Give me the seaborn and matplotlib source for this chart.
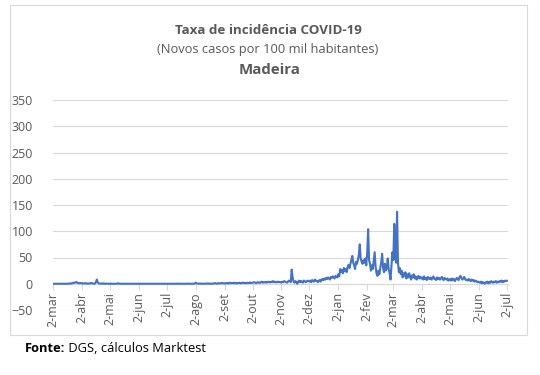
import matplotlib
matplotlib.use("Agg")
import matplotlib.pyplot as plt
import seaborn as sns
import pandas as pd
from matplotlib.patches import Rectangle

# ---- data (daily new cases per 100k) ----
mar20 = [0,0,0,0,0,0,0,0,0,0,0,0,0,0,0,0,0.4,0,0.4,0.8,0.4,1.2,2.0,1.6,2.4,3.5,2.0,1.2,0.8,1.6]
apr20 = [0.8,1.2,0.4,0.8,0.4,1.2,0.8,0,0.4,0.8,0.4,1.6,0.8,0.4,0,0.4,3,8,2.5,0.8,0.4,0,0.4,0.8,0,0.4,0,0,0.4,0]
may20 = [0,0,0.4,0,0,0,0,0,0,0.4,0.8,0,0,0,0,0,0,0,0,0,0,0,0,0,0,0,0,0,0,0,0]
jun20 = [0,0,0,0,0,0,0,0,0,0,0,0,0,0,0,0,0,0,0,0,0,0,0,0,0,0,0,0,0,0]
jul20 = [0,0,0,0,0,0,0,0,0,0,0,0,0,0.4,0,0,0,0,0,0,0,0,0,0,0,0.4,0,0,0,0,0]
aug20 = [0.4,2,0.8,0.4,0,0.4,0,0.4,0,0,0.4,0,0,0.4,0.8,0,0.4,0,0,0.4,0,0.8,1.2,0.4,0,0.8,1.2,0.4,0.8,1.6,0.8]
sep20 = [1,0.4,1.2,0.8,1.6,0.4,1.2,2,0.8,1.2,1.6,0.8,2,1.2,0.4,1.6,1.2,2,0.8,1.6,1.2,2.4,1.2,1.6,0.8,2,1.6,1.2,2.4,1.6]
oct20 = [2,1.5,2.5,3,2,1,2.5,3,2,1.5,3,4,2,3,2.5,3.5,2,3,4,3,2.5,4,3,5,3,4,2.5,3,4,3,3.5]
nov20 = [3,2,4,3,5,4,3,2,4,6,5,3,27,12,4,2,5,3,0,4,6,3,5,4,2,6,5,3,4,6]
dec20 = [5,4,6,3,7,5,4,8,6,5,3,6,7,4,8,9,7,10,8,11,9,12,10,8,13,11,14,12,10,15,13]
jan21 = [12,18,14,28,22,26,20,30,24,28,22,32,36,30,38,45,53,40,35,28,42,38,45,55,75,48,42,38,45,40,48]
feb21 = [35,60,104,45,38,25,35,28,45,60,32,20,15,25,18,30,40,57,30,22,38,25,30,48,28,20,8,35]
mar21 = [60,45,114,55,40,137,40,22,30,18,25,12,20,15,22,10,18,12,20,14,8,16,12,18,10,14,8,12,15,10,13]
apr21 = [10,12,8,14,9,11,7,13,10,9,12,8,11,14,9,10,7,12,9,11,8,10,13,9,7,11,9,8,10,6]
may21 = [8,9,6,10,7,9,5,8,11,9,7,13,15,11,8,10,13,9,7,8,6,9,7,5,8,6,7,4,6,5,3]
jun21 = [4,3,2,4,1,3,2,0,3,2,4,1,3,2,5,3,2,4,3,5,2,4,3,5,4,6,3,5,4,6]
jul21 = [5,6]

month_labels = ["2-mar","2-abr","2-mai","2-jun","2-jul","2-ago","2-set","2-out",
                "2-nov","2-dez","2-jan","2-fev","2-mar","2-abr","2-mai","2-jun","2-jul"]
y_ticks = [-50, 0, 50, 100, 150, 200, 250, 300, 350]

values = (mar20 + apr20 + may20 + jun20 + jul20 + aug20 + sep20 + oct20 + nov20 +
          dec20 + jan21 + feb21 + mar21 + apr21 + may21 + jun21 + jul21)
dates = pd.date_range("2020-03-02", periods=len(values), freq="D")
df = pd.DataFrame({"data": dates, "taxa": values})
tick_dates = pd.date_range("2020-03-01", periods=len(month_labels), freq="MS") + pd.Timedelta(days=1)

sns.set_theme(style="white")
plt.rcParams["font.family"] = ["Open Sans", "DejaVu Sans"]

fig = plt.figure(figsize=(5.4, 3.75), dpi=100)
fig.patch.set_facecolor("white")
fig.add_artist(Rectangle((10/540, 1-335/375), 517/540, 330/375, transform=fig.transFigure,
                         fill=False, edgecolor="#D9D9D9", linewidth=0.8))

ax = fig.add_axes([53/540, 1-310/375, 455/540, 210/375])
sns.lineplot(data=df, x="data", y="taxa", color="#4472C4", linewidth=1.5, ax=ax)

ax.set_ylim(-50, 350)
ax.set_yticks(y_ticks)
ax.set_xlim(pd.Timestamp("2020-03-02"), pd.Timestamp("2021-07-03"))
ax.set_xticks(tick_dates)
ax.set_xticklabels(month_labels)
ax.set_xlabel("")
ax.set_ylabel("")
ax.grid(axis="y", color="#D9D9D9", linewidth=0.8)
ax.set_axisbelow(True)
for s in ["top", "right", "left"]:
    ax.spines[s].set_visible(False)
ax.spines["bottom"].set_position(("data", 0))
ax.spines["bottom"].set_color("#D9D9D9")
ax.spines["bottom"].set_linewidth(0.8)
ax.spines["bottom"].set_zorder(0)
ax.tick_params(axis="x", bottom=True, length=4, width=0.8, color="#D9D9D9",
               labelsize=9, labelcolor="#595959", pad=2, labelrotation=90)
ax.tick_params(axis="y", left=False, labelsize=9, labelcolor="#595959", pad=8.5)

fig.text(268/540, 1-30/375, "Taxa de incidência COVID-19", ha="center", va="center",
         fontsize=9.6, fontweight="bold", color="#595959")
fig.text(268/540, 1-50/375, "(Novos casos por 100 mil habitantes)", ha="center", va="center",
         fontsize=9.3, color="#595959")
fig.text(270/540, 1-70/375, "Madeira", ha="center", va="center",
         fontsize=10.8, fontweight="bold", color="#595959")

t1 = fig.text(25/540, 1-348/375, "Fonte:", ha="left", va="center", fontsize=9.3,
              fontweight="bold", color="black")
ax.annotate(" DGS, cálculos Marktest", xy=(1, 0.5), xycoords=t1, ha="left", va="center",
            fontsize=9.3, color="black", annotation_clip=False)

fig.savefig("out.png", dpi=100, facecolor="white")
